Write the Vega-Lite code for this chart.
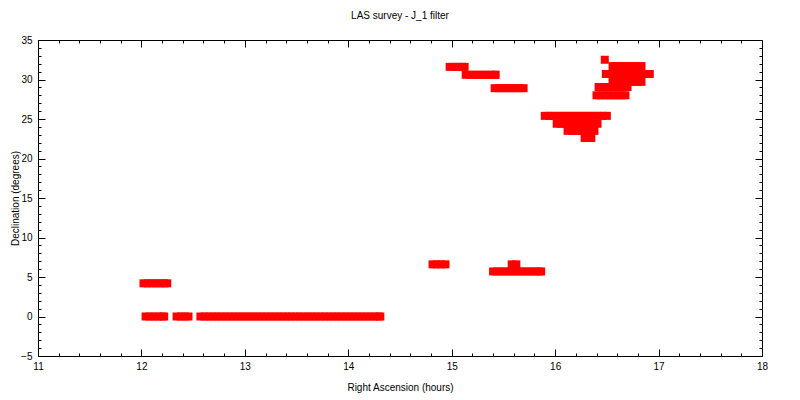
{
  "$schema": "https://vega.github.io/schema/vega-lite/v6.json",
  "width": 724,
  "height": 316,
  "autosize": {"type": "none"},
  "padding": {"left": 38, "top": 40, "right": 38, "bottom": 44},
  "background": "white",
  "config": {
    "view": {"stroke": "black", "strokeWidth": 1},
    "font": "Liberation Sans",
    "axis": {"labelFont": "Liberation Sans", "titleFont": "Liberation Sans", "labelFontSize": 10, "titleFontSize": 10, "titleFontWeight": "normal", "labelColor": "black", "titleColor": "black", "tickColor": "black", "domain": false, "grid": false}
  },
  "title": {"text": "LAS survey - J_1 filter", "fontSize": 10, "fontWeight": "normal", "font": "Liberation Sans", "offset": 14, "color": "black"},
  "data": {"values": [
    {"ra": 12.02, "dec": 4.2}, {"ra": 12.06, "dec": 4.2}, {"ra": 12.10, "dec": 4.2}, {"ra": 12.14, "dec": 4.2}, {"ra": 12.18, "dec": 4.2}, {"ra": 12.22, "dec": 4.2}, {"ra": 12.25, "dec": 4.2},
    {"ra": 12.04, "dec": 0}, {"ra": 12.08, "dec": 0}, {"ra": 12.12, "dec": 0}, {"ra": 12.16, "dec": 0}, {"ra": 12.20, "dec": 0}, {"ra": 12.22, "dec": 0},
    {"ra": 12.34, "dec": 0}, {"ra": 12.38, "dec": 0}, {"ra": 12.42, "dec": 0}, {"ra": 12.455, "dec": 0},
    {"ra": 12.57, "dec": 0}, {"ra": 12.61, "dec": 0}, {"ra": 12.65, "dec": 0}, {"ra": 12.69, "dec": 0}, {"ra": 12.73, "dec": 0}, {"ra": 12.77, "dec": 0}, {"ra": 12.81, "dec": 0}, {"ra": 12.85, "dec": 0}, {"ra": 12.89, "dec": 0}, {"ra": 12.93, "dec": 0}, {"ra": 12.97, "dec": 0},
    {"ra": 13.01, "dec": 0}, {"ra": 13.05, "dec": 0}, {"ra": 13.09, "dec": 0}, {"ra": 13.13, "dec": 0}, {"ra": 13.17, "dec": 0}, {"ra": 13.21, "dec": 0}, {"ra": 13.25, "dec": 0}, {"ra": 13.29, "dec": 0}, {"ra": 13.33, "dec": 0}, {"ra": 13.37, "dec": 0},
    {"ra": 13.41, "dec": 0}, {"ra": 13.45, "dec": 0}, {"ra": 13.49, "dec": 0}, {"ra": 13.53, "dec": 0}, {"ra": 13.57, "dec": 0}, {"ra": 13.61, "dec": 0}, {"ra": 13.65, "dec": 0}, {"ra": 13.69, "dec": 0}, {"ra": 13.73, "dec": 0}, {"ra": 13.77, "dec": 0},
    {"ra": 13.81, "dec": 0}, {"ra": 13.85, "dec": 0}, {"ra": 13.89, "dec": 0}, {"ra": 13.93, "dec": 0}, {"ra": 13.97, "dec": 0}, {"ra": 14.01, "dec": 0}, {"ra": 14.05, "dec": 0}, {"ra": 14.09, "dec": 0}, {"ra": 14.13, "dec": 0}, {"ra": 14.17, "dec": 0},
    {"ra": 14.21, "dec": 0}, {"ra": 14.25, "dec": 0}, {"ra": 14.29, "dec": 0}, {"ra": 14.31, "dec": 0},
    {"ra": 14.815, "dec": 6.6}, {"ra": 14.855, "dec": 6.6}, {"ra": 14.895, "dec": 6.6}, {"ra": 14.94, "dec": 6.6},
    {"ra": 15.40, "dec": 5.7}, {"ra": 15.44, "dec": 5.7}, {"ra": 15.48, "dec": 5.7}, {"ra": 15.52, "dec": 5.7}, {"ra": 15.56, "dec": 5.7}, {"ra": 15.60, "dec": 5.7}, {"ra": 15.64, "dec": 5.7}, {"ra": 15.68, "dec": 5.7}, {"ra": 15.72, "dec": 5.7}, {"ra": 15.76, "dec": 5.7}, {"ra": 15.80, "dec": 5.7}, {"ra": 15.84, "dec": 5.7}, {"ra": 15.865, "dec": 5.7},
    {"ra": 15.58, "dec": 6.6}, {"ra": 15.625, "dec": 6.6},
    {"ra": 14.98, "dec": 31.6}, {"ra": 15.02, "dec": 31.6}, {"ra": 15.06, "dec": 31.6}, {"ra": 15.10, "dec": 31.6}, {"ra": 15.125, "dec": 31.6},
    {"ra": 15.135, "dec": 30.6}, {"ra": 15.175, "dec": 30.6}, {"ra": 15.215, "dec": 30.6}, {"ra": 15.255, "dec": 30.6}, {"ra": 15.295, "dec": 30.6}, {"ra": 15.335, "dec": 30.6}, {"ra": 15.375, "dec": 30.6}, {"ra": 15.415, "dec": 30.6}, {"ra": 15.425, "dec": 30.6},
    {"ra": 15.415, "dec": 28.9}, {"ra": 15.455, "dec": 28.9}, {"ra": 15.495, "dec": 28.9}, {"ra": 15.535, "dec": 28.9}, {"ra": 15.575, "dec": 28.9}, {"ra": 15.615, "dec": 28.9}, {"ra": 15.655, "dec": 28.9}, {"ra": 15.695, "dec": 28.9},
    {"ra": 15.90, "dec": 25.4}, {"ra": 15.94, "dec": 25.4}, {"ra": 15.98, "dec": 25.4}, {"ra": 16.02, "dec": 25.4}, {"ra": 16.06, "dec": 25.4}, {"ra": 16.10, "dec": 25.4}, {"ra": 16.14, "dec": 25.4}, {"ra": 16.18, "dec": 25.4}, {"ra": 16.22, "dec": 25.4}, {"ra": 16.26, "dec": 25.4}, {"ra": 16.30, "dec": 25.4}, {"ra": 16.34, "dec": 25.4}, {"ra": 16.38, "dec": 25.4}, {"ra": 16.42, "dec": 25.4}, {"ra": 16.46, "dec": 25.4}, {"ra": 16.50, "dec": 25.4},
    {"ra": 16.015, "dec": 24.4}, {"ra": 16.055, "dec": 24.4}, {"ra": 16.095, "dec": 24.4}, {"ra": 16.135, "dec": 24.4}, {"ra": 16.175, "dec": 24.4}, {"ra": 16.215, "dec": 24.4}, {"ra": 16.255, "dec": 24.4}, {"ra": 16.295, "dec": 24.4}, {"ra": 16.335, "dec": 24.4}, {"ra": 16.375, "dec": 24.4}, {"ra": 16.41, "dec": 24.4},
    {"ra": 16.12, "dec": 23.5}, {"ra": 16.16, "dec": 23.5}, {"ra": 16.20, "dec": 23.5}, {"ra": 16.24, "dec": 23.5}, {"ra": 16.28, "dec": 23.5}, {"ra": 16.32, "dec": 23.5}, {"ra": 16.36, "dec": 23.5}, {"ra": 16.38, "dec": 23.5},
    {"ra": 16.285, "dec": 22.6}, {"ra": 16.325, "dec": 22.6}, {"ra": 16.35, "dec": 22.6},
    {"ra": 16.48, "dec": 32.5},
    {"ra": 16.555, "dec": 31.7}, {"ra": 16.595, "dec": 31.7}, {"ra": 16.635, "dec": 31.7}, {"ra": 16.675, "dec": 31.7}, {"ra": 16.715, "dec": 31.7}, {"ra": 16.755, "dec": 31.7}, {"ra": 16.795, "dec": 31.7}, {"ra": 16.835, "dec": 31.7},
    {"ra": 16.49, "dec": 30.7}, {"ra": 16.53, "dec": 30.7}, {"ra": 16.57, "dec": 30.7}, {"ra": 16.61, "dec": 30.7}, {"ra": 16.65, "dec": 30.7}, {"ra": 16.69, "dec": 30.7}, {"ra": 16.73, "dec": 30.7}, {"ra": 16.77, "dec": 30.7}, {"ra": 16.81, "dec": 30.7}, {"ra": 16.85, "dec": 30.7}, {"ra": 16.89, "dec": 30.7}, {"ra": 16.915, "dec": 30.7},
    {"ra": 16.555, "dec": 29.7}, {"ra": 16.595, "dec": 29.7}, {"ra": 16.635, "dec": 29.7}, {"ra": 16.675, "dec": 29.7}, {"ra": 16.715, "dec": 29.7}, {"ra": 16.755, "dec": 29.7}, {"ra": 16.795, "dec": 29.7}, {"ra": 16.835, "dec": 29.7},
    {"ra": 16.42, "dec": 29.05}, {"ra": 16.46, "dec": 29.05}, {"ra": 16.50, "dec": 29.05}, {"ra": 16.54, "dec": 29.05}, {"ra": 16.58, "dec": 29.05}, {"ra": 16.62, "dec": 29.05}, {"ra": 16.66, "dec": 29.05}, {"ra": 16.70, "dec": 29.05},
    {"ra": 16.40, "dec": 28.0}, {"ra": 16.44, "dec": 28.0}, {"ra": 16.48, "dec": 28.0}, {"ra": 16.52, "dec": 28.0}, {"ra": 16.56, "dec": 28.0}, {"ra": 16.60, "dec": 28.0}, {"ra": 16.64, "dec": 28.0}, {"ra": 16.68, "dec": 28.0}
  ]},
  "resolve": {"axis": {"x": "independent", "y": "independent"}},
  "layer": [
    {
      "mark": {"type": "square", "filled": true, "color": "#ff0000", "opacity": 1, "size": 64, "strokeWidth": 0},
      "encoding": {
        "x": {"field": "ra", "type": "quantitative", "scale": {"domain": [11, 18], "nice": false, "zero": false},
          "axis": {"orient": "bottom", "title": "Right Ascension (hours)", "titlePadding": 7,
            "values": [11, 11.2, 11.4, 11.6, 11.8, 12, 12.2, 12.4, 12.6, 12.8, 13, 13.2, 13.4, 13.6, 13.8, 14, 14.2, 14.4, 14.6, 14.8, 15, 15.2, 15.4, 15.6, 15.8, 16, 16.2, 16.4, 16.6, 16.8, 17, 17.2, 17.4, 17.6, 17.8, 18],
            "labelExpr": "abs(datum.value - round(datum.value)) < 0.01 ? format(datum.value, 'd') : ''",
            "tickSize": {"condition": {"test": "abs(datum.value - round(datum.value)) < 0.01", "value": -7}, "value": -3},
            "labelPadding": 12, "labelFlush": false, "labelOverlap": false}},
        "y": {"field": "dec", "type": "quantitative", "scale": {"domain": [-5, 35], "nice": false, "zero": false},
          "axis": {"orient": "left", "title": "Declination (degrees)", "titlePadding": 0,
            "values": [-5, -4, -3, -2, -1, 0, 1, 2, 3, 4, 5, 6, 7, 8, 9, 10, 11, 12, 13, 14, 15, 16, 17, 18, 19, 20, 21, 22, 23, 24, 25, 26, 27, 28, 29, 30, 31, 32, 33, 34, 35],
            "labelExpr": "datum.value % 5 === 0 ? format(datum.value, 'd') : ''",
            "tickSize": {"condition": {"test": "datum.value % 5 === 0", "value": -7}, "value": -3},
            "labelPadding": 13, "labelFlush": false, "labelOverlap": false}}
      }
    },
    {
      "mark": {"type": "square", "opacity": 0},
      "encoding": {
        "x": {"field": "ra", "type": "quantitative", "scale": {"domain": [11, 18], "nice": false, "zero": false},
          "axis": {"orient": "top", "title": null, "labels": false,
            "values": [11, 11.2, 11.4, 11.6, 11.8, 12, 12.2, 12.4, 12.6, 12.8, 13, 13.2, 13.4, 13.6, 13.8, 14, 14.2, 14.4, 14.6, 14.8, 15, 15.2, 15.4, 15.6, 15.8, 16, 16.2, 16.4, 16.6, 16.8, 17, 17.2, 17.4, 17.6, 17.8, 18],
            "tickSize": {"condition": {"test": "abs(datum.value - round(datum.value)) < 0.01", "value": -7}, "value": -3}}},
        "y": {"field": "dec", "type": "quantitative", "scale": {"domain": [-5, 35], "nice": false, "zero": false},
          "axis": {"orient": "right", "title": null, "labels": false,
            "values": [-5, -4, -3, -2, -1, 0, 1, 2, 3, 4, 5, 6, 7, 8, 9, 10, 11, 12, 13, 14, 15, 16, 17, 18, 19, 20, 21, 22, 23, 24, 25, 26, 27, 28, 29, 30, 31, 32, 33, 34, 35],
            "tickSize": {"condition": {"test": "datum.value % 5 === 0", "value": -7}, "value": -3}}}
      }
    }
  ]
}
